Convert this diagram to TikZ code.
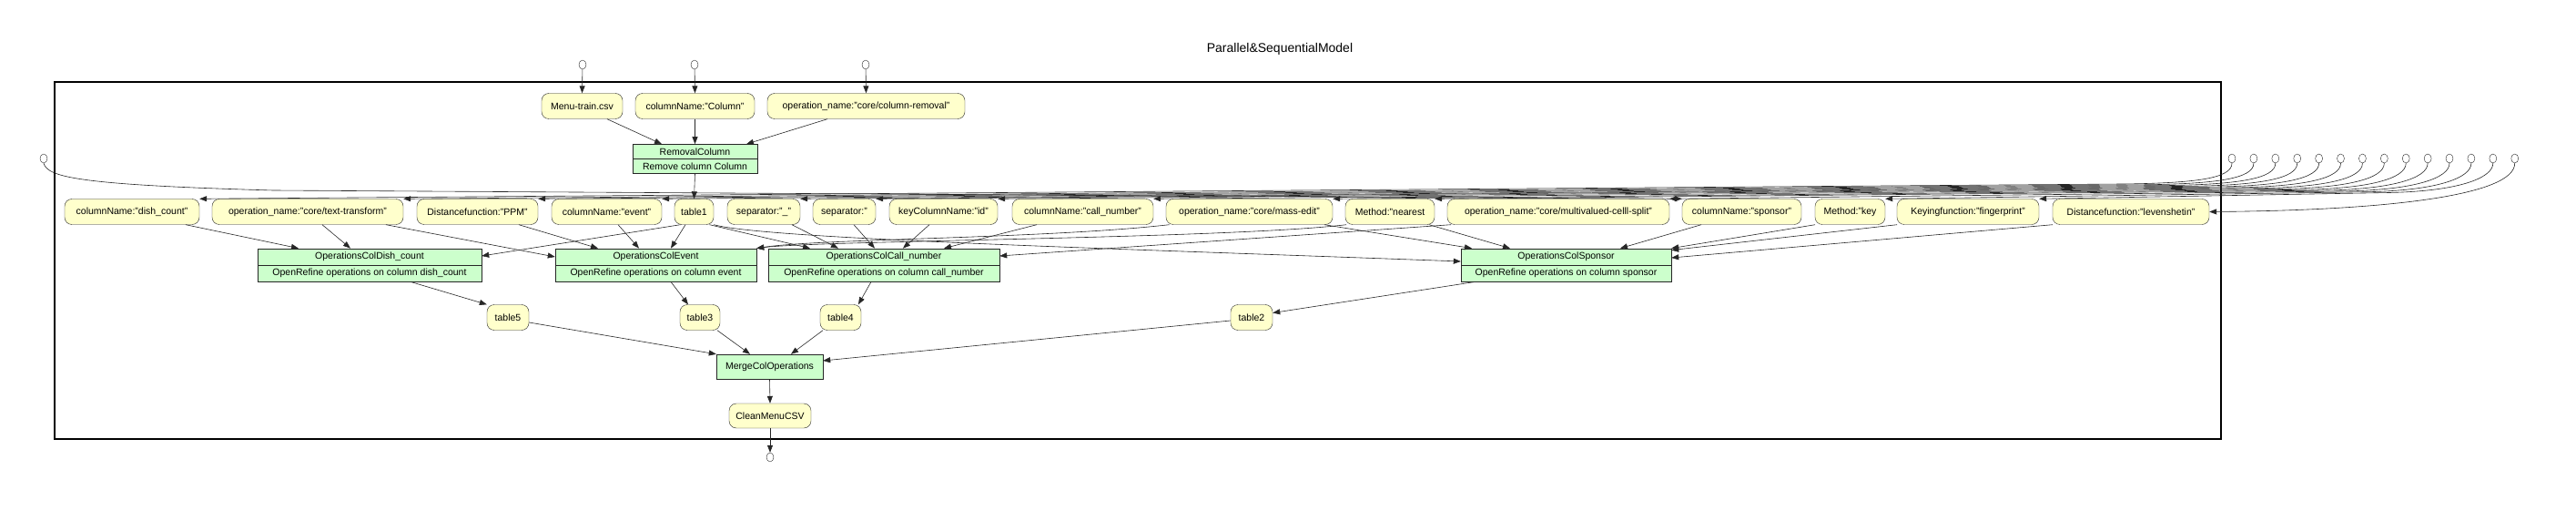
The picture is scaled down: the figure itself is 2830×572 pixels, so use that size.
\documentclass[tikz,border=0pt]{standalone}
\usepackage{fontspec}
\setmainfont{Liberation Sans}
\usetikzlibrary{arrows.meta, shapes.geometric, shapes.multipart, calc}
\definecolor{paramyellow}{HTML}{FFFFCC}
\definecolor{opgreen}{HTML}{CCFFCC}

\begin{document}
\begin{tikzpicture}[x=1pt, y=-1pt,
  every node/.style={font=\fontsize{10.5}{12}\selectfont},
  param/.style={rectangle, rounded corners=8pt, draw=black!85, fill=paramyellow, minimum height=28pt, inner sep=0pt},
  operation/.style={rectangle split, rectangle split parts=2, draw=black!85, fill=opgreen, inner xsep=4pt, inner ysep=4pt},
  port/.style={ellipse, draw=black!85, fill=white, minimum width=8pt, minimum height=10pt, inner sep=0pt},
  flow/.style={-{Stealth[length=8pt, width=6pt, inset=0pt]}, black!85, line width=0.6pt},
]
\useasboundingbox (0,0) rectangle (2830,572);

\node[font=\fontsize{14}{16}\selectfont] (title) at (1406,54) {Parallel\&SequentialModel};
\draw[line width=1.5pt] (60,90) rectangle (2440,482);

% Ports
\node[port] (in1) at (640,71) {};
\node[port] (in2) at (763,71) {};
\node[port] (in3) at (951,71) {};
\node[port] (lin) at (48,174) {};
\foreach \i in {0,...,13}
  \node[port] (rin\i) at ({2452+23.9*\i},174) {};
\node[port] (outc) at (846,502) {};

% Removal stage
\node[param, minimum width=89] (menutrain) at (639.5,116.5) {Menu-train.csv};
\node[param, minimum width=131] (colname) at (763.5,116.5) {columnName:"Column"};
\node[param, minimum width=217] (colremoval) at (951.5,116.5) {operation\_name:"core/column-removal"};
\node[operation, minimum width=137] (removal) at (763.5,174.5) {RemovalColumn \nodepart{two} Remove column Column};

% Parameters
\node[param, minimum width=148] (dishcount) at (145,232.5) {columnName:"dish\_count"};
\node[param, minimum width=210] (texttransform) at (338,232.5) {operation\_name:"core/text-transform"};
\node[param, minimum width=133] (ppm) at (524.5,232.5) {Distancefunction:"PPM"};
\node[param, minimum width=121] (event) at (666.5,232.5) {columnName:"event"};
\node[param, minimum width=43] (table1) at (762.5,232.5) {table1};
\node[param, minimum width=80] (sepa) at (839,232.5) {separator:"\_"};
\node[param, minimum width=69] (sepb) at (927.5,232.5) {separator:"};
\node[param, minimum width=119] (keycol) at (1036.5,232.5) {keyColumnName:"id"};
\node[param, minimum width=155] (callnum) at (1189.5,232.5) {columnName:"call\_number"};
\node[param, minimum width=183] (massedit) at (1372.5,232.5) {operation\_name:"core/mass-edit"};
\node[param, minimum width=98] (nearest) at (1527,232.5) {Method:"nearest};
\node[param, minimum width=244] (multisplit) at (1712,232.5) {operation\_name:"core/multivalued-celll-split"};
\node[param, minimum width=131] (sponsor) at (1913.5,232.5) {columnName:"sponsor"};
\node[param, minimum width=77] (methodkey) at (2032.5,232.5) {Method:"key};
\node[param, minimum width=156] (keying) at (2162,232.5) {Keyingfunction:"fingerprint"};
\node[param, minimum width=172] (leven) at (2341,232.5) {Distancefunction:"levenshetin"};

% Operations
\node[operation, minimum width=246] (opdish) at (406,291) {OperationsColDish\_count \nodepart{two} OpenRefine operations on column dish\_count};
\node[operation, minimum width=221] (opevent) at (720.5,291) {OperationsColEvent \nodepart{two} OpenRefine operations on column event};
\node[operation, minimum width=254] (opcall) at (971,291) {OperationsColCall\_number \nodepart{two} OpenRefine operations on column call\_number};
\node[operation, minimum width=231] (opsponsor) at (1720.5,291) {OperationsColSponsor \nodepart{two} OpenRefine operations on column sponsor};

% Results
\node[param, minimum width=46] (table5) at (558,348.5) {table5};
\node[param, minimum width=44] (table3) at (769,348.5) {table3};
\node[param, minimum width=45] (table4) at (923.5,348.5) {table4};
\node[param, minimum width=46] (table2) at (1375,348.5) {table2};
\node[rectangle, draw=black!85, fill=opgreen, minimum width=117, minimum height=27] (merge) at (845.5,402.5) {MergeColOperations};
\node[param, minimum width=90, minimum height=27] (clean) at (846,456.5) {CleanMenuCSV};

% Inputs into the frame
\draw[flow] (in1) -- (menutrain.north);
\draw[flow] (in2) -- (colname.north);
\draw[flow] (in3) -- (colremoval.north);
\foreach \i/\t in {0/dishcount, 1/texttransform, 2/ppm, 3/event, 4/sepa, 5/sepb, 6/keycol, 7/callnum, 8/massedit, 9/nearest, 10/multisplit, 11/methodkey, 12/keying}
  \draw[flow] (rin\i.south) .. controls ({2452+23.9*\i},196) and ({2452+23.9*\i-40},{201+0.8*\i}) .. ({2452+23.9*\i-120},{202+0.8*\i}) -- (\t.north east);
\draw[flow] (rin13.south) .. controls (2763,215) and (2620,231) .. (leven.east);
\draw[flow] (lin.south) .. controls (52,195) and (90,203) .. (300,209) -- (sponsor.north west);

% Removal
\draw[flow] ([xshift=27.5pt]menutrain.south) -- ([xshift=-36.5pt]removal.north);
\draw[flow] (colname.south) -- (removal.north);
\draw[flow] ([xshift=-42.5pt]colremoval.south) -- ([xshift=56.5pt]removal.north);
\draw[flow] (removal.south) -- (table1.north);

% Dish_count
\draw[flow] ([xshift=59pt]dishcount.south) -- ([xshift=-78pt]opdish.north);
\draw[flow] ([xshift=16pt]texttransform.south) -- ([xshift=-21pt]opdish.north);
\draw[flow] ([xshift=-15pt]table1.south) -- ([yshift=10pt]opdish.east);

% Event
\draw[flow] ([xshift=86pt]texttransform.south) -- ([yshift=9pt]opevent.west);
\draw[flow] ([xshift=45.5pt]ppm.south) -- ([xshift=-63.5pt]opevent.north);
\draw[flow] ([xshift=12.5pt]event.south) -- ([xshift=-18.5pt]opevent.north);
\draw[flow] ([xshift=-9.5pt]table1.south) -- ([xshift=16.5pt]opevent.north);
\draw[flow] ([xshift=-88pt]massedit.south) .. controls (1150,262) and (900,262) .. (opevent.north east);
\draw[flow] ([xshift=-48pt]nearest.south) .. controls (1350,262) and (900,264) .. (opevent.north east);

% Call_number
\draw[flow] ([xshift=17pt]table1.south) -- ([xshift=-81pt]opcall.north);
\draw[flow] ([xshift=31pt]sepa.south) -- ([xshift=-50pt]opcall.north);
\draw[flow] ([xshift=10.5pt]sepb.south) -- ([xshift=-10pt]opcall.north);
\draw[flow] ([xshift=-15.5pt]keycol.south) -- ([xshift=21pt]opcall.north);
\draw[flow] ([xshift=-50.5pt]callnum.south) -- ([xshift=66pt]opcall.north);
\draw[flow] ([xshift=-118pt]multisplit.south) -- ([yshift=10pt]opcall.east);

% Sponsor
\draw[flow] (table1.south east) .. controls (840,262) and (1200,272) .. ([yshift=4pt]opsponsor.west);
\draw[flow] ([xshift=82.5pt]massedit.south) -- ([xshift=-103.5pt]opsponsor.north);
\draw[flow] ([xshift=43pt]nearest.south) -- ([xshift=-61.5pt]opsponsor.north);
\draw[flow] ([xshift=-44.5pt]sponsor.south) -- ([xshift=59.5pt]opsponsor.north);
\draw[flow] ([xshift=-38.5pt]methodkey.south) -- (opsponsor.north east);
\draw[flow] ([xshift=-78pt]keying.south) -- ([yshift=-2pt]opsponsor.north east);
\draw[flow] ([xshift=-86pt]leven.south) -- ([yshift=8pt]opsponsor.east);

% Results
\draw[flow] ([xshift=45pt]opdish.south) -- (table5.north west);
\draw[flow] ([xshift=16.5pt]opevent.south) -- ([xshift=-13pt]table3.north);
\draw[flow] ([xshift=-14pt]opcall.south) -- ([xshift=19.5pt]table4.north);
\draw[flow] ([xshift=-99.5pt]opsponsor.south) -- ([yshift=5pt]table2.east);
\draw[flow] ([yshift=-5.5pt]table5.east) -- (merge.north west);
\draw[flow] ([xshift=19pt]table3.south) -- ([xshift=-21.5pt]merge.north);
\draw[flow] ([xshift=-19.5pt]table4.south) -- ([xshift=23.5pt]merge.north);
\draw[flow] ([yshift=-3.5pt]table2.west) -- ([yshift=6.5pt]merge.east);
\draw[flow] (merge.south) -- (clean.north);
\draw[flow] (clean.south) -- (outc.north);

\end{tikzpicture}
\end{document}
